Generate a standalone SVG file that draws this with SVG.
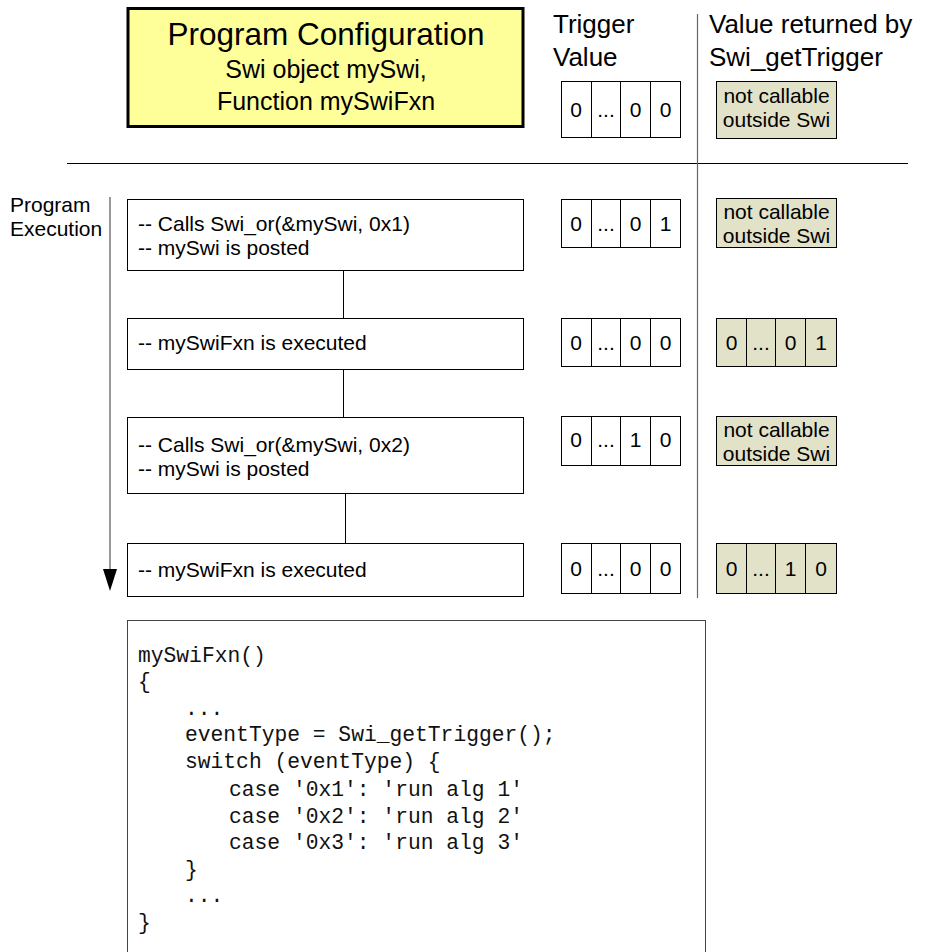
<svg xmlns="http://www.w3.org/2000/svg" width="925" height="952" viewBox="0 0 925 952">
<style>
.s{font-family:"Liberation Sans",Arial,sans-serif;fill:#000}
.m{font-family:"Liberation Mono","Courier New",monospace;font-size:21.3px;fill:#111}
.box{fill:#fff;stroke:#000;stroke-width:1}
.cell{fill:#fff;stroke:#000;stroke-width:1}
.gc{fill:#e2e2c9;stroke:#000;stroke-width:1}
.t21{font-size:21px}
.h{font-size:26px}
.c{text-anchor:middle}
</style>
<rect width="925" height="952" fill="#fff"/>

<g id="config">
<rect x="128" y="8.5" width="395" height="118" fill="#ffff99" stroke="#000" stroke-width="3"/>
<text class="s c" x="326" y="45" font-size="31.5">Program Configuration</text>
<text class="s c" x="326" y="78" font-size="25">Swi object mySwi,</text>
<text class="s c" x="326" y="110" font-size="25">Function mySwiFxn</text>
</g>

<g id="headers">
<text class="s h" x="553" y="33">Trigger</text>
<text class="s h" x="553" y="66">Value</text>
<text class="s h" x="709" y="33">Value returned by</text>
<text class="s h" x="709" y="66">Swi_getTrigger</text>
</g>

<g id="dividers">
<line x1="67" y1="163.5" x2="908" y2="163.5" stroke="#000" stroke-width="1"/>
<line x1="697.5" y1="14" x2="697.5" y2="598" stroke="#666" stroke-width="1.2"/>
</g>

<g id="exec-label">
<text class="s t21" x="10" y="212">Program</text>
<text class="s t21" x="10" y="236">Execution</text>
</g>

<g id="connectors">
<line x1="110" y1="197" x2="110" y2="572" stroke="#777" stroke-width="1.5"/>
<polygon points="103,569 117,569 110,591" fill="#000"/>
<line x1="343.5" y1="271" x2="343.5" y2="318" stroke="#000" stroke-width="1"/>
<line x1="343.5" y1="370" x2="343.5" y2="417" stroke="#000" stroke-width="1"/>
<line x1="345.5" y1="494" x2="345.5" y2="543" stroke="#000" stroke-width="1"/>
</g>

<g id="step1">
<rect class="box" x="127.5" y="199.5" width="396" height="71"/>
<text class="s t21" x="138" y="231">-- Calls Swi_or(&amp;mySwi, 0x1)</text>
<text class="s t21" x="138" y="255">-- mySwi is posted</text>
</g>
<g id="step2">
<rect class="box" x="127.5" y="318.5" width="396" height="51"/>
<text class="s t21" x="138" y="350">-- mySwiFxn is executed</text>
</g>
<g id="step3">
<rect class="box" x="127.5" y="417.5" width="396" height="76"/>
<text class="s t21" x="138" y="452">-- Calls Swi_or(&amp;mySwi, 0x2)</text>
<text class="s t21" x="138" y="476">-- mySwi is posted</text>
</g>
<g id="step4">
<rect class="box" x="127.5" y="543.5" width="396" height="53"/>
<text class="s t21" x="138" y="577">-- mySwiFxn is executed</text>
</g>

<g id="trigger0">
<rect class="cell" x="561.5" y="81.5" width="30" height="56"/>
<rect class="cell" x="591.5" y="81.5" width="29" height="56"/>
<rect class="cell" x="620.5" y="81.5" width="30" height="56"/>
<rect class="cell" x="650.5" y="81.5" width="30" height="56"/>
<text class="s t21 c" x="576" y="117">0</text><text class="s t21 c" x="606" y="117">...</text><text class="s t21 c" x="635.5" y="117">0</text><text class="s t21 c" x="665.5" y="117">0</text>
</g>
<g id="trigger1">
<rect class="cell" x="561.5" y="199.5" width="30" height="48"/>
<rect class="cell" x="591.5" y="199.5" width="29" height="48"/>
<rect class="cell" x="620.5" y="199.5" width="30" height="48"/>
<rect class="cell" x="650.5" y="199.5" width="30" height="48"/>
<text class="s t21 c" x="576" y="231">0</text><text class="s t21 c" x="606" y="231">...</text><text class="s t21 c" x="635.5" y="231">0</text><text class="s t21 c" x="665.5" y="231">1</text>
</g>
<g id="trigger2">
<rect class="cell" x="561.5" y="318.5" width="30" height="48"/>
<rect class="cell" x="591.5" y="318.5" width="29" height="48"/>
<rect class="cell" x="620.5" y="318.5" width="30" height="48"/>
<rect class="cell" x="650.5" y="318.5" width="30" height="48"/>
<text class="s t21 c" x="576" y="350">0</text><text class="s t21 c" x="606" y="350">...</text><text class="s t21 c" x="635.5" y="350">0</text><text class="s t21 c" x="665.5" y="350">0</text>
</g>
<g id="trigger3">
<rect class="cell" x="561.5" y="416.5" width="30" height="49"/>
<rect class="cell" x="591.5" y="416.5" width="29" height="49"/>
<rect class="cell" x="620.5" y="416.5" width="30" height="49"/>
<rect class="cell" x="650.5" y="416.5" width="30" height="49"/>
<text class="s t21 c" x="576" y="447">0</text><text class="s t21 c" x="606" y="447">...</text><text class="s t21 c" x="635.5" y="447">1</text><text class="s t21 c" x="665.5" y="447">0</text>
</g>
<g id="trigger4">
<rect class="cell" x="561.5" y="543.5" width="30" height="50"/>
<rect class="cell" x="591.5" y="543.5" width="29" height="50"/>
<rect class="cell" x="620.5" y="543.5" width="30" height="50"/>
<rect class="cell" x="650.5" y="543.5" width="30" height="50"/>
<text class="s t21 c" x="576" y="576">0</text><text class="s t21 c" x="606" y="576">...</text><text class="s t21 c" x="635.5" y="576">0</text><text class="s t21 c" x="665.5" y="576">0</text>
</g>

<g id="returned0">
<rect class="gc" x="716.5" y="81.5" width="120" height="57"/>
<text class="s t21 c" x="776.5" y="103">not callable</text>
<text class="s t21 c" x="776.5" y="127">outside Swi</text>
</g>
<g id="returned1">
<rect class="gc" x="716.5" y="198.5" width="120" height="49"/>
<text class="s t21 c" x="776.5" y="219">not callable</text>
<text class="s t21 c" x="776.5" y="243">outside Swi</text>
</g>
<g id="returned2">
<rect class="gc" x="716.5" y="318.5" width="30" height="48"/>
<rect class="gc" x="746.5" y="318.5" width="29" height="48"/>
<rect class="gc" x="775.5" y="318.5" width="30" height="48"/>
<rect class="gc" x="805.5" y="318.5" width="31" height="48"/>
<text class="s t21 c" x="731.5" y="350">0</text><text class="s t21 c" x="761" y="350">...</text><text class="s t21 c" x="790.5" y="350">0</text><text class="s t21 c" x="821" y="350">1</text>
</g>
<g id="returned3">
<rect class="gc" x="716.5" y="416.5" width="120" height="49"/>
<text class="s t21 c" x="776.5" y="437">not callable</text>
<text class="s t21 c" x="776.5" y="461">outside Swi</text>
</g>
<g id="returned4">
<rect class="gc" x="716.5" y="543.5" width="30" height="50"/>
<rect class="gc" x="746.5" y="543.5" width="29" height="50"/>
<rect class="gc" x="775.5" y="543.5" width="30" height="50"/>
<rect class="gc" x="805.5" y="543.5" width="31" height="50"/>
<text class="s t21 c" x="731.5" y="576">0</text><text class="s t21 c" x="761" y="576">...</text><text class="s t21 c" x="790.5" y="576">1</text><text class="s t21 c" x="821" y="576">0</text>
</g>

<g id="code">
<rect x="127.5" y="620.5" width="578" height="340" fill="#fff" stroke="#444" stroke-width="1"/>
<text class="m" x="138" y="662">mySwiFxn()</text>
<text class="m" x="138" y="688">{</text>
<text class="m" x="185" y="715">...</text>
<text class="m" x="185" y="741">eventType = Swi_getTrigger();</text>
<text class="m" x="185" y="768">switch (eventType) {</text>
<text class="m" x="229" y="796">case '0x1': 'run alg 1'</text>
<text class="m" x="229" y="823">case '0x2': 'run alg 2'</text>
<text class="m" x="229" y="849">case '0x3': 'run alg 3'</text>
<text class="m" x="185" y="876">}</text>
<text class="m" x="185" y="902">...</text>
<text class="m" x="138" y="929">}</text>
</g>
</svg>
